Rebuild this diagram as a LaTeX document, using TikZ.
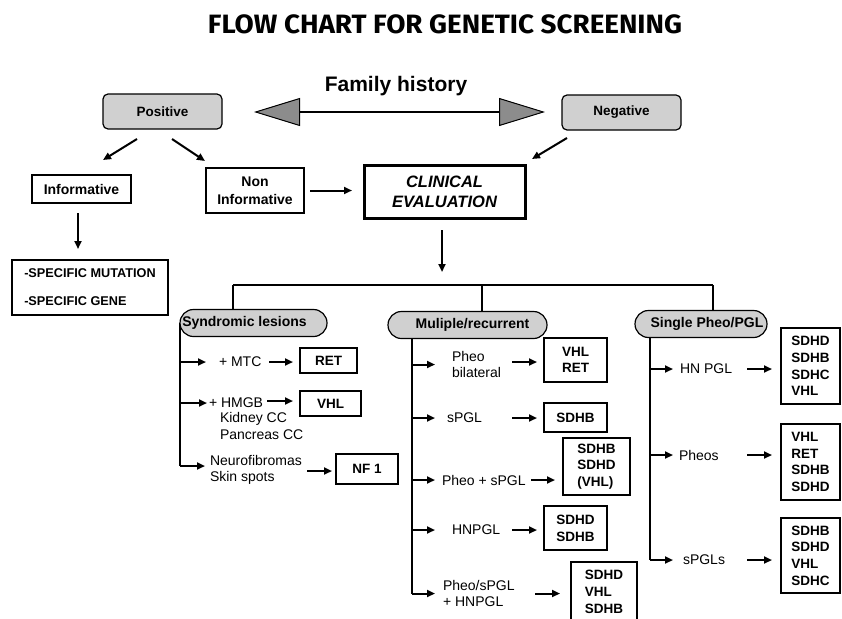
\documentclass[tikz,border=0pt]{standalone}
\usepackage{fontspec}
\setmainfont{Liberation Sans}
\newfontfamily\titlefont{Fira Sans}
\usetikzlibrary{arrows.meta,calc}
\pgfdeclarelayer{back}
\pgfdeclarelayer{bg}
\pgfsetlayers{back,bg,main}
\definecolor{boxgray}{RGB}{208,208,208}
\definecolor{trigray}{RGB}{140,140,140}
\newcommand\garrow[5]{\draw[arr] ($(#1.west |- #2.west)+(-#3,#5)$) -- ($(#1.west |- #2.west)+(-#4,#5)$);}
\begin{document}
\begin{tikzpicture}[x=1pt,y=-1pt,
  every node/.style={inner sep=0pt, outer sep=0pt},
  plainbox/.style={draw, line width=1.2pt, fill=white, align=center, font=\bfseries\fontsize{14}{18}\selectfont},
  graybox/.style={draw, line width=1.2pt, fill=boxgray, rounded corners=5pt, font=\bfseries\fontsize{13.5}{16}\selectfont},
  ovalbox/.style={draw, line width=1.2pt, fill=boxgray, rounded corners=13.5pt, minimum height=27pt, font=\bfseries\fontsize{14}{16}\selectfont},
  genebox/.style={draw, line width=2.4pt, fill=white, align=left, font=\bfseries\fontsize{13.5}{16.7}\selectfont},
  lbl/.style={anchor=west, align=left, font=\fontsize{14}{16}\selectfont},
  arr/.style={line width=2pt, -{Triangle[length=8pt,width=7pt]}},
  bus/.style={line width=1.3pt},
]
\begin{pgfonlayer}{back}
\fill[white] (0,0) rectangle (842,618);
\end{pgfonlayer}
\useasboundingbox (0,0) rectangle (842,618);

% title and family history
\node[font=\titlefont\bfseries\fontsize{26.5}{30}\selectfont] (title) at (445,24) {\scalebox{1.05}[1]{FLOW CHART FOR GENETIC SCREENING}};
\node[anchor=base, font=\bfseries\fontsize{21}{24}\selectfont] (fam) at (396,91) {Family history};

\node[graybox, minimum width=119pt, minimum height=35pt] (pos) at (162.5,111.5) {Positive};
\node[graybox, minimum width=119pt, minimum height=35pt] (neg) at (621.5,112.5) {Negative};

\coordinate (famL) at (254,112);
\coordinate (famR) at (545,112);
\draw[line width=2pt, {Triangle[length=46pt,width=28pt,fill=trigray,line width=1pt]}-{Triangle[length=46pt,width=28pt,fill=trigray,line width=1pt]}] (famL) -- (famR);

\node[plainbox, minimum width=99pt, minimum height=28pt] (inf) at (81.5,189) {Informative};
\node[plainbox, minimum width=98pt, minimum height=45pt] (noninf) at (255,190.5) {Non\\Informative};
\node[plainbox, line width=3pt, minimum width=161pt, minimum height=53pt, font=\bfseries\itshape\fontsize{16.5}{20}\selectfont] (clin) at (444.5,191.5) {CLINICAL\\EVALUATION};
\node[plainbox, align=left, minimum width=156pt, minimum height=55pt, font=\bfseries\fontsize{12.7}{28}\selectfont] (spec) at (90,287.5) {-SPECIFIC MUTATION\\-SPECIFIC GENE};

\coordinate (p1a) at (137,139); \coordinate (p1b) at (103,160);
\coordinate (p2a) at (172,139); \coordinate (p2b) at (205,161);
\coordinate (n1a) at (567,138); \coordinate (n1b) at (532,159);
\draw[arr] (p1a) -- (p1b);
\draw[arr] (p2a) -- (p2b);
\draw[arr] (n1a) -- (n1b);
\draw[arr, shorten <=6pt, shorten >=12pt] (noninf.east) -- (noninf.east -| clin.west);
\draw[arr] ($(inf.south)+(-3.5,10)$) -- ($(inf.south)+(-3.5,46)$);
\draw[arr] ($(clin.south)+(-2.5,12)$) -- ($(clin.south)+(-2.5,54)$);

% category ovals
\node[ovalbox, minimum width=147pt] (synd) at (253.5,323) {\hspace*{-18pt}Syndromic lesions};
\node[ovalbox, minimum width=159pt] (mul) at (467.5,325) {\hspace*{10pt}Muliple/recurrent};
\node[ovalbox, minimum width=132pt] (sing) at (701,324) {\hspace*{12pt}Single Pheo/PGL};

\coordinate (b1) at (233,285);
\coordinate (b2) at (482,285);
\coordinate (b3) at (713,285);
\draw[bus] (b1) -- (b3);
\draw[bus] (b1) -- (b1 |- synd.north);
\draw[bus] (b2) -- (b2 |- mul.north);
\draw[bus] (b3) -- (b3 |- sing.north);

% labels
\node[lbl] (mtc) at (219,362) {+ MTC};
\node[lbl] (hmgb) at (209,403) {+ HMGB};
\node[lbl] (kid) at (220,419) {Kidney CC};
\node[lbl] (panc) at (220,435) {Pancreas CC};
\node[lbl] (neuro) at (210,470) {Neurofibromas\\Skin spots};
\node[lbl] (pheob) at (452,364.5) {Pheo\\bilateral};
\node[lbl] (spgl) at (447,418) {sPGL};
\node[lbl] (pheosp) at (442,480) {Pheo + sPGL};
\node[lbl] (hnpgl) at (452,530) {HNPGL};
\node[lbl] (pheohn) at (443,593.5) {Pheo/sPGL\\+ HNPGL};
\node[lbl] (hnpgl2) at (680,369) {HN PGL};
\node[lbl] (pheos) at (679,455) {Pheos};
\node[lbl] (spgls) at (683,560) {sPGLs};

% gene boxes
\node[genebox, minimum width=57pt, minimum height=25pt] (ret) at (328.5,360.5) {RET};
\node[genebox, minimum width=61pt, minimum height=25pt] (vhl) at (330.5,403.5) {VHL};
\node[genebox, minimum width=62pt, minimum height=30pt] (nf) at (367,469) {NF 1};
\node[genebox, minimum width=63pt, minimum height=44pt] (m1) at (575.5,360) {VHL\\RET};
\node[genebox, minimum width=63pt, minimum height=29pt] (m2) at (575.5,417.5) {SDHB};
\node[genebox, minimum width=67pt, minimum height=57pt] (m3) at (596.5,466.5) {SDHB\\SDHD\\(VHL)};
\node[genebox, minimum width=63pt, minimum height=44pt] (m4) at (575.5,528) {SDHD\\SDHB};
\node[genebox, minimum width=66pt, minimum height=60pt] (m5) at (604,592) {SDHD\\VHL\\SDHB};
\node[genebox, minimum width=59pt, minimum height=76pt] (s1) at (810.5,366) {SDHD\\SDHB\\SDHC\\VHL};
\node[genebox, minimum width=59pt, minimum height=76pt] (s2) at (810.5,462) {VHL\\RET\\SDHB\\SDHD};
\node[genebox, minimum width=59pt, minimum height=75pt] (s3) at (810.5,555.5) {SDHB\\SDHD\\VHL\\SDHC};

% spines
\coordinate (sspine) at (180,323);
\coordinate (mspine) at (412,325);
\coordinate (gspine) at (650,324);
\begin{pgfonlayer}{bg}
\draw[bus] (sspine) -- ($(sspine |- neuro.west)+(0,-4)$);
\draw[bus] (mspine) -- (mspine |- pheohn.west);
\draw[bus] (gspine) -- (gspine |- spgls.west);
\end{pgfonlayer}

\draw[arr] (sspine |- mtc.west) -- ++(26,0);
\draw[arr] (sspine |- hmgb.west) -- ++(27,0);
\draw[arr] ($(sspine |- neuro.west)+(0,-4)$) -- ++(25,0);
\foreach \l in {pheob,spgl,pheosp,hnpgl,pheohn} {\draw[arr] (mspine |- \l.west) -- ++(23,0);}
\foreach \l in {hnpgl2,pheos,spgls} {\draw[arr] (gspine |- \l.west) -- ++(23,0);}

% label to gene arrows
\garrow{ret}{mtc}{31}{7}{0}
\garrow{vhl}{hmgb}{33}{7}{-2}
\garrow{nf}{neuro}{29}{4}{1}
\garrow{m1}{pheob}{32}{7}{-2.5}
\garrow{m2}{spgl}{32}{7}{0}
\garrow{m3}{pheosp}{32}{8}{0}
\garrow{m4}{hnpgl}{32}{7}{0}
\garrow{m5}{pheohn}{36}{11}{0}
\garrow{s1}{hnpgl2}{34}{9}{0}
\garrow{s2}{pheos}{34}{9}{0}
\garrow{s3}{spgls}{34}{9}{0}
\end{tikzpicture}
\end{document}
